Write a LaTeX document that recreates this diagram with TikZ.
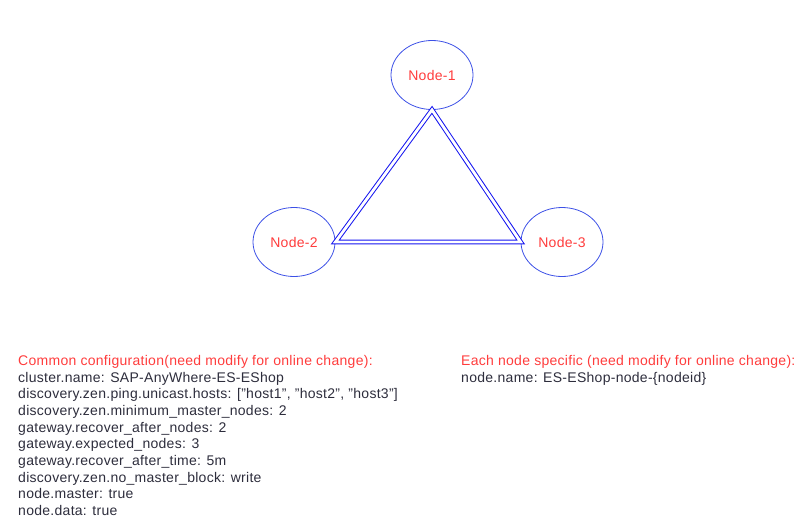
\documentclass[tikz,border=0pt]{standalone}
\usepackage{fontspec}
\setmainfont{Liberation Sans}[LetterSpace=2]
\usetikzlibrary{shapes.geometric}
\definecolor{nodeblue}{RGB}{60,80,230}
\definecolor{edgeblue}{RGB}{20,20,240}
\definecolor{lblred}{RGB}{255,60,60}
\definecolor{bodytxt}{RGB}{45,45,60}
\begin{document}
\begin{tikzpicture}[x=1pt,y=-1pt,
  esnode/.style={ellipse,draw=nodeblue,line width=0.8pt,minimum width=82pt,minimum height=69pt,inner sep=0pt,text=lblred,font=\fontsize{14}{16}\selectfont},
  link/.style={draw=edgeblue,double=white,line width=1pt,double distance=2.8pt},
  txt/.style={anchor=north west,inner sep=0pt,align=left,font=\fontsize{14}{16.7}\selectfont,text=bodytxt}]
\useasboundingbox (0,0) rectangle (810,522);
\node[esnode] (n1) at (432,75) {Node-1};
\node[esnode] (n2) at (294,242) {Node-2};
\node[esnode] (n3) at (562,242) {Node-3};
\coordinate (a) at (n1.south);
\draw[link] (n2.east) -- (a) -- (n3.west) -- cycle;
\node[txt] (common) at (18,355) {\textcolor{lblred}{Common configuration(need modify for online change):}\\
cluster.name: SAP-AnyWhere-ES-EShop\\
discovery.zen.ping.unicast.hosts: ["host1", "host2", "host3"]\\
discovery.zen.minimum\_master\_nodes: 2\\
gateway.recover\_after\_nodes: 2\\
gateway.expected\_nodes: 3\\
gateway.recover\_after\_time: 5m\\
discovery.zen.no\_master\_block: write\\
node.master: true\\
node.data: true};
\node[txt] (specific) at (461,355) {\textcolor{lblred}{Each node specific (need modify for online change):}\\
node.name: ES-EShop-node-\{nodeid\}};
\end{tikzpicture}
\end{document}
